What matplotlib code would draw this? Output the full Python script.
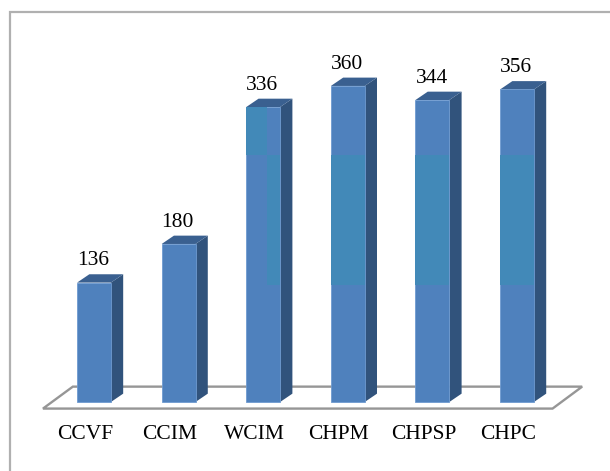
import matplotlib
matplotlib.use('Agg')
import matplotlib.pyplot as plt
from matplotlib.patches import Polygon, Rectangle

categories = ['CCVF', 'CCIM', 'WCIM', 'CHPM', 'CHPSP', 'CHPC']
values = [136, 180, 336, 360, 344, 356]
value_labels = ['136', '180', '336', '360', '344', '356']

front_color = '#4f81bd'
band_color = '#4289b8'
side_color = '#31537c'
top_color = '#3a6090'
floor_color = '#969696'
frame_color = '#b0b0b0'

plt.rcParams['font.family'] = ['Liberation Serif', 'DejaVu Serif']

fig = plt.figure(figsize=(6.10, 4.71), dpi=100)
ax = fig.add_axes([0, 0, 1, 1])

# one category step is 84.6 px, one value unit is 0.878 px
ax.set_xlim(-1.111, 6.099)
ax.set_ylim(-78.6, 457.9)
ax.axis('off')

bar_w = 0.40
depth_x = 0.145
depth_y = 9.5
band_low = 133
band_high = 281

# outer frame
ax.plot([10 / 610, 10 / 610, 1], [0, 459 / 471, 459 / 471], transform=ax.transAxes,
        color=frame_color, lw=1.6, solid_joinstyle='miter', clip_on=False)

# floor of the 3d chart
floor = Polygon([(-0.603, -7.5), (-0.25, 17.5), (5.77, 17.5), (5.42, -7.5)], closed=True,
                facecolor='white', edgecolor=floor_color, lw=1.7, zorder=1)
ax.add_patch(floor)

for i, v in enumerate(values):
    left = i - bar_w / 2
    right = i + bar_w / 2
    ax.add_patch(Polygon([(right, 0), (right + depth_x, depth_y), (right + depth_x, v + depth_y), (right, v)],
                         facecolor=side_color, edgecolor='none', zorder=2))
    ax.add_patch(Polygon([(left, v), (left + depth_x, v + depth_y), (right + depth_x, v + depth_y), (right, v)],
                         facecolor=top_color, edgecolor='none', zorder=2))
    ax.add_patch(Rectangle((left, 0), bar_w, v, facecolor=front_color, edgecolor='#6f9bd0', lw=0.6, zorder=3))
    # the lighter teal band in the tall bars, WCIM has it split in two pieces
    if categories[i] == 'WCIM':
        split = left + bar_w * 0.62
        ax.add_patch(Rectangle((left, band_high), split - left, v - band_high, facecolor=band_color,
                               edgecolor='none', zorder=4))
        ax.add_patch(Rectangle((split, band_low), right - split, band_high - band_low, facecolor=band_color,
                               edgecolor='none', zorder=4))
    elif v > band_high:
        ax.add_patch(Rectangle((left, band_low), bar_w, band_high - band_low, facecolor=band_color,
                               edgecolor='none', zorder=4))
    ax.text(i - 0.01, v + 14, value_labels[i], ha='center', va='bottom', fontsize=15.5, color='black', zorder=5)
    ax.text(i - 0.105, -36.5, categories[i], ha='center', va='center', fontsize=15.5, color='black', zorder=5)

fig.savefig('out.png', dpi=100)
